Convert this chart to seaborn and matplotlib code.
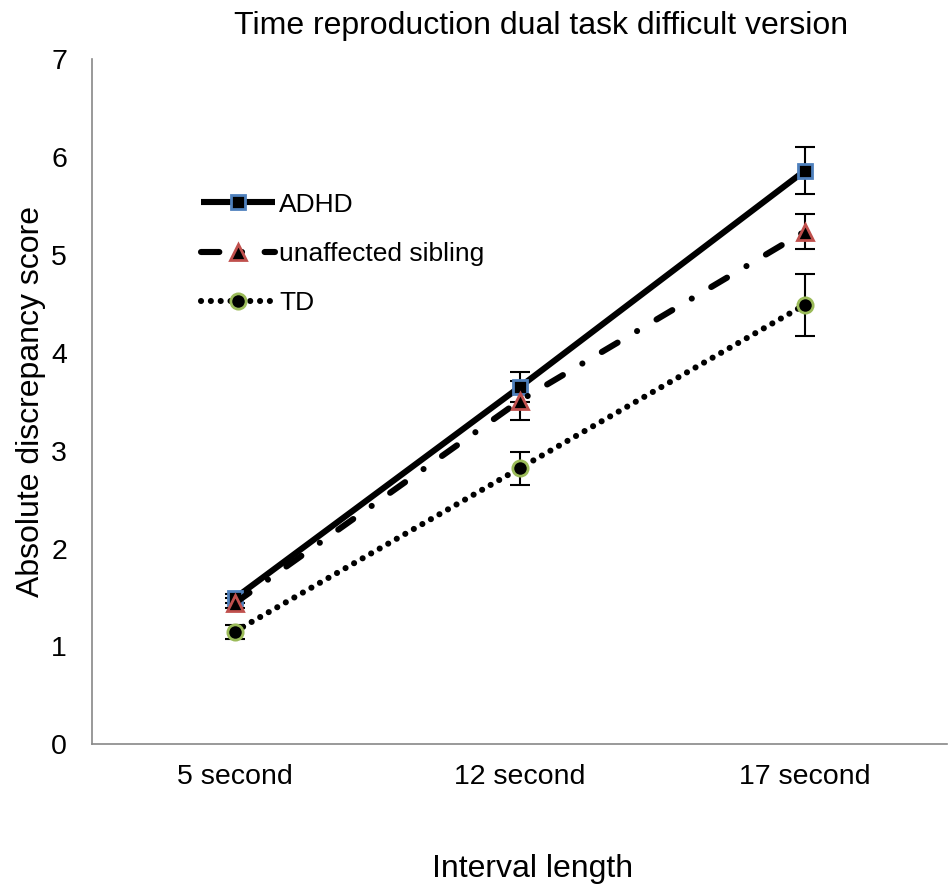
import matplotlib
matplotlib.use("Agg")
import matplotlib.pyplot as plt
import seaborn as sns
import pandas as pd
import numpy as np

categories = ["5 second", "12 second", "17 second"]
adhd = [1.49, 3.65, 5.86]
adhd_err = [0.05, 0.15, 0.24]
sibling = [1.44, 3.51, 5.24]
sibling_err = [0.05, 0.20, 0.18]
td = [1.15, 2.82, 4.49]
td_err = [0.07, 0.17, 0.32]

sns.set_style("white")
plt.rcParams['font.family'] = ['Liberation Sans', 'DejaVu Sans']
plt.rcParams['text.color'] = 'black'
plt.rcParams['xtick.color'] = 'black'
plt.rcParams['ytick.color'] = 'black'
plt.rcParams['axes.labelcolor'] = 'black'

fig = plt.figure(figsize=(9.49, 8.86), dpi=100)
ax = fig.add_axes([0.097, 0.160, 0.901, 0.773])

x = np.arange(len(categories))
series = [
    ("ADHD", adhd, adhd_err, dict(ls="-", marker="s", mfc="black", mec="#4f81bd", ms=10, mew=2)),
    ("unaffected sibling", sibling, sibling_err, dict(ls=(0, (3, 3.7, 0.01, 3.7)), marker="^", mfc="black", mec="#c0504d", ms=11, mew=2)),
    ("TD", td, td_err, dict(ls=(0, (0.01, 1.6)), marker="o", mfc="black", mec="#9bbb59", ms=11, mew=2)),
]

for name, vals, errs, st in series:
    df = pd.DataFrame({"x": x, "y": vals})
    ax.errorbar(x, vals, yerr=errs, fmt="none", ecolor="black", elinewidth=1.5, capsize=7, capthick=1.5, zorder=1)
    sns.lineplot(data=df, x="x", y="y", ax=ax, color="black", lw=4.4,
                 linestyle=st["ls"], marker=st["marker"], markerfacecolor=st["mfc"],
                 markeredgecolor=st["mec"], markersize=st["ms"], markeredgewidth=st["mew"],
                 label=name, zorder=3, dash_capstyle="round", solid_capstyle="butt")

ax.set_xlim(-0.5, 2.5)
ax.set_ylim(0, 7)
ax.set_xticks(x)
ax.set_xticklabels(categories, fontsize=20.5)
ax.set_yticks(range(0, 8))
ax.tick_params(axis="y", labelsize=20.5, length=0, pad=18)
ax.tick_params(axis="x", length=0, pad=14)
for s in ["top", "right"]:
    ax.spines[s].set_visible(False)
for s in ["left", "bottom"]:
    ax.spines[s].set_color("#888888")
    ax.spines[s].set_linewidth(1.2)

ax.set_xlabel("Interval length", fontsize=23, labelpad=46, x=0.515)
ax.set_ylabel("Absolute discrepancy score", fontsize=23, labelpad=4)
ax.set_title("Time reproduction dual task difficult version", fontsize=23, pad=18, x=0.525)

leg = ax.legend(loc="upper left", bbox_to_anchor=(0.1, 0.84), frameon=False, fontsize=19,
                handlelength=2.8, labelspacing=0.95, handletextpad=0.15)

fig.savefig("out.png", dpi=100)
